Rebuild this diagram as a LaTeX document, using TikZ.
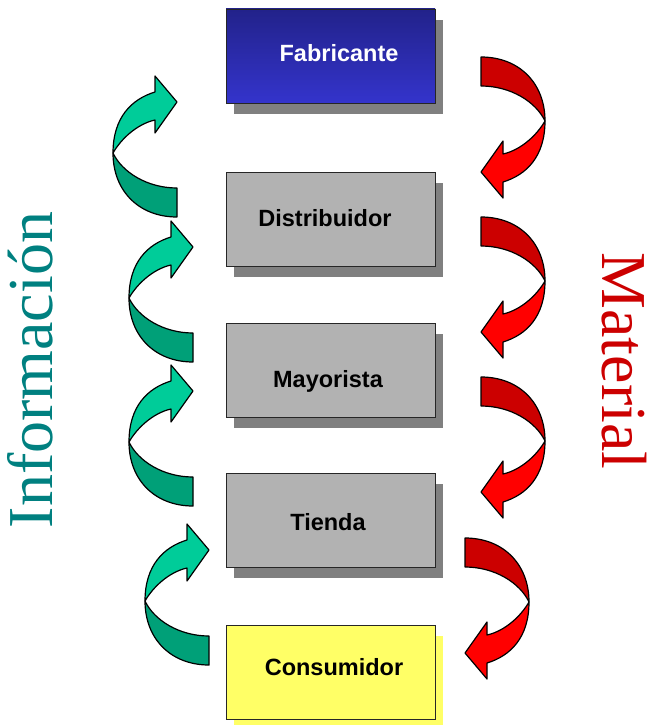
\documentclass[tikz,border=0pt]{standalone}
\usepackage{fontspec}
\setmainfont{Liberation Serif}
\setsansfont{Liberation Sans}
\usepackage{tikz}
\usetikzlibrary{shadows}
\definecolor{boxgray}{RGB}{178,178,178}
\definecolor{shadegray}{RGB}{128,128,128}
\definecolor{fabtop}{RGB}{34,34,138}
\definecolor{fabbottom}{RGB}{52,52,204}
\definecolor{consyellow}{RGB}{255,255,102}
\definecolor{infodark}{RGB}{0,160,120}
\definecolor{infolight}{RGB}{0,204,153}
\definecolor{matdark}{RGB}{204,0,0}
\definecolor{matlight}{RGB}{255,0,0}
\definecolor{infotext}{RGB}{0,128,128}
\definecolor{mattext}{RGB}{204,0,0}
\tikzset{
  ribbonline/.style={draw=black,line width=1.2pt,line join=round},
  pics/ribbon/.style 2 args={code={
    \filldraw[fill=#1,ribbonline] (0,0) .. controls (-38,0) and (-64,-26) .. (-64,-64)
      .. controls (-55,-45) and (-30,-29) .. (0,-29) -- cycle;
    \filldraw[fill=#2,ribbonline] (-64,-64) .. controls (-64,-100) and (-45,-118) .. (-22,-125)
      -- (-22,-141) -- (0,-115) -- (-22,-84) -- (-22,-97)
      .. controls (-40,-93) and (-56,-78) .. (-64,-64) -- cycle;
  }}
}
\begin{document}
\begin{tikzpicture}[x=1pt,y=-1pt,
stage/.style={rectangle,draw=black!85,line width=0.9pt,minimum width=209pt,minimum height=94pt,inner sep=0pt,
  general shadow={fill=#1,shadow xshift=8pt,shadow yshift=-11pt}},
stage/.default=shadegray,
stagelabel/.style={anchor=base,font=\sffamily\bfseries\fontsize{23.5}{28}\selectfont},
sidelabel/.style={anchor=base,inner sep=0pt,text height=44pt,font=\fontsize{64}{70}\selectfont}]
\useasboundingbox (0,0) rectangle (646,725);
\node[stage,top color=fabtop,bottom color=fabbottom] (fab) at (330.5,56) {};
\node[stage,fill=boxgray] (dist) at (330.5,219) {};
\node[stage,fill=boxgray] (may) at (330.5,370) {};
\node[stage,fill=boxgray] (tien) at (330.5,520) {};
\node[stage=consyellow,fill=consyellow] (cons) at (330.5,672) {};
\node[stagelabel,text=white] (fab-t) at (339,61) {Fabricante};
\node[stagelabel] (dist-t) at (325,226) {Distribuidor};
\node[stagelabel] (may-t) at (328,387) {Mayorista};
\node[stagelabel] (tien-t) at (328,530) {Tienda};
\node[stagelabel] (cons-t) at (334,675) {Consumidor};
\pic at (177,217) {ribbon={infodark}{infolight}};
\pic at (193,362) {ribbon={infodark}{infolight}};
\pic at (193,506) {ribbon={infodark}{infolight}};
\pic at (209,665) {ribbon={infodark}{infolight}};
\pic[rotate=180] at (481,57) {ribbon={matdark}{matlight}};
\pic[rotate=180] at (481,217) {ribbon={matdark}{matlight}};
\pic[rotate=180] at (481,377) {ribbon={matdark}{matlight}};
\pic[rotate=180] at (465,538) {ribbon={matdark}{matlight}};
\node[sidelabel,rotate=90,text=infotext] (info) at (52,370) {Información};
\node[sidelabel,rotate=-90,text=mattext] (mat) at (602,361) {Material};
\end{tikzpicture}
\end{document}
